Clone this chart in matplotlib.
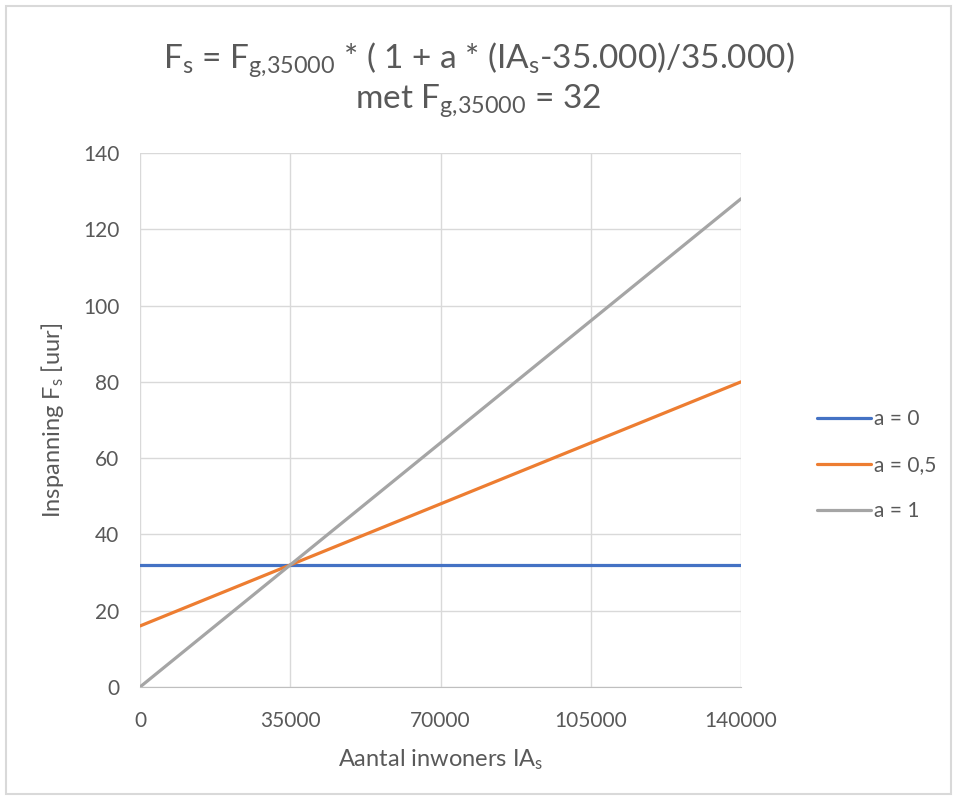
import matplotlib
matplotlib.use("Agg")
import matplotlib.pyplot as plt
from matplotlib.patches import Rectangle

plt.rcParams['font.family'] = ['Lato', 'DejaVu Sans']
plt.rcParams['mathtext.fontset'] = 'custom'
plt.rcParams['mathtext.rm'] = 'Lato'
plt.rcParams['mathtext.default'] = 'regular'

# values
inwoners = [0, 35000, 70000, 105000, 140000]
a_0 = [32, 32, 32, 32, 32]
a_05 = [16, 32, 48, 64, 80]
a_1 = [0, 32, 64, 96, 128]
labels = ["a = 0", "a = 0,5", "a = 1"]
xticks = [0, 35000, 70000, 105000, 140000]
yticks = [0, 20, 40, 60, 80, 100, 120, 140]

txt = '#595959'
grid = '#d9d9d9'

fig = plt.figure(figsize=(9.57, 8), dpi=100)
ax = fig.add_axes([140/957, 113/800, 601/957, 534/800])

ax.plot(inwoners, a_0, color='#4472C4', lw=2.3, label=labels[0], solid_capstyle='round')
ax.plot(inwoners, a_05, color='#ED7D31', lw=2.3, label=labels[1], solid_capstyle='round')
ax.plot(inwoners, a_1, color='#A5A5A5', lw=2.3, label=labels[2], solid_capstyle='round')

ax.set_xlim(0, 140000)
ax.set_ylim(0, 140)
ax.set_xticks(xticks)
ax.set_yticks(yticks)
ax.set_xticklabels([str(v) for v in xticks])
ax.grid(True, color=grid, lw=1)
ax.set_axisbelow(True)
for s in ['top', 'right', 'left']:
    ax.spines[s].set_visible(False)
ax.spines['bottom'].set_color('#bfbfbf')
ax.tick_params(length=0, labelsize=15, labelcolor=txt)
ax.tick_params(axis='x', pad=17)
ax.tick_params(axis='y', pad=15)

ax.set_xlabel('Aantal inwoners IA$_{s}$', fontsize=17, color=txt, labelpad=12)
ax.set_ylabel('Inspanning F$_{s}$ [uur]', fontsize=17, color=txt, labelpad=12)

fig.text(0.5, 1 - 60/800, 'F$_{s}$ = F$_{g{,}35000}$ * ( 1 + a * (IA$_{s}$-35.000)/35.000)',
         ha='center', va='center', fontsize=24, color=txt)
fig.text(0.5, 1 - 101/800, 'met F$_{g{,}35000}$ = 32',
         ha='center', va='center', fontsize=24, color=txt)

leg = ax.legend(loc='center left', bbox_to_anchor=(1.095, 0.415), frameon=False,
                fontsize=15, handlelength=2.6, handletextpad=0.15, labelspacing=1.25)
for t in leg.get_texts():
    t.set_color(txt)

fig.patches.append(Rectangle((6/957, 6/800), 945/957, 788/800, transform=fig.transFigure,
                             fill=False, edgecolor=grid, lw=1.5))

fig.savefig('out.png', dpi=100)
